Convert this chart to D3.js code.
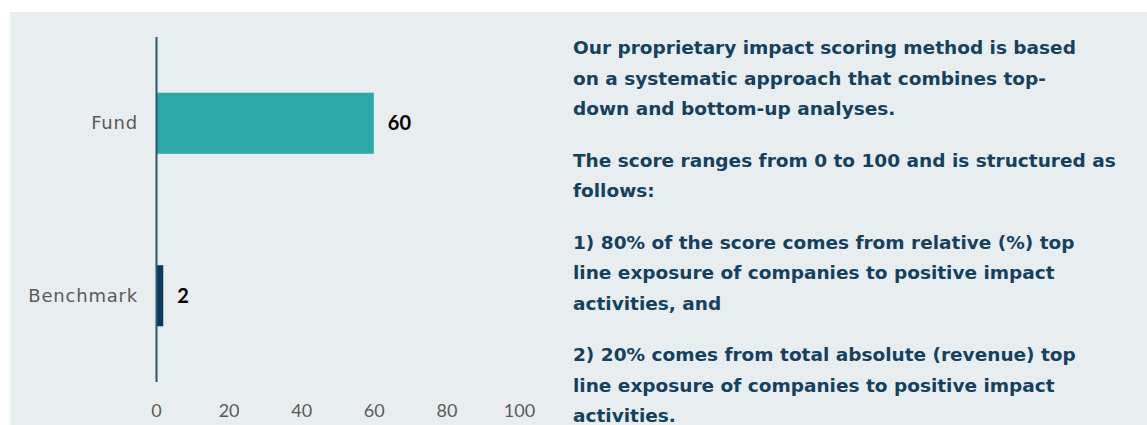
<!DOCTYPE html>
<html lang="en">
	<head>
		<meta charset="utf-8">
		<title>Impact score</title>
		<script type="text/javascript" src="https://cdn.jsdelivr.net/npm/d3@7"></script>
		<style type="text/css">
			body { margin: 0; background: #ffffff; }
			svg text { font-family: "Lato", "DejaVu Sans", sans-serif; }
			.desc text { font-family: "DejaVu Sans", sans-serif; }
			.cat text { font-family: "DejaVu Sans", sans-serif; letter-spacing: 0.8px; }
		</style>
	</head>
	<body>
		<script type="text/javascript">

			//Width and height
			var w = 1147;
			var h = 425;

			//Data
			var categories = ["Fund", "Benchmark"];
			var scores = [60, 2];
			var barColors = ["#2ca8a6", "#0c3b5a"];
			var xTicks = [0, 20, 40, 60, 80, 100];

			//Right hand text, one array per paragraph
			var paragraphs = [
				["Our proprietary impact scoring method is based",
				 "on a systematic approach that combines top-",
				 "down and bottom-up analyses."],
				["The score ranges from 0 to 100 and is structured as",
				 "follows:"],
				["1) 80% of the score comes from relative (%) top",
				 "line exposure of companies to positive impact",
				 "activities, and"],
				["2) 20% comes from total absolute (revenue) top",
				 "line exposure of companies to positive impact",
				 "activities."]
			];

			var svg = d3.select("body")
						.append("svg")
						.attr("width", w)
						.attr("height", h);

			//Panel background
			svg.append("rect")
				.attr("x", 10)
				.attr("y", 12)
				.attr("width", w - 10)
				.attr("height", h - 12)
				.attr("fill", "#e8eeef");

			//Scales
			var xScale = d3.scaleLinear()
							.domain([0, 100])
							.range([156, 519]);

			var yScale = d3.scaleBand()
							.domain(categories)
							.range([37, 382])
							.paddingInner(0.646)
							.paddingOuter(0.323);

			//Bars
			svg.selectAll("rect.bar")
				.data(categories)
				.enter()
				.append("rect")
				.attr("class", "bar")
				.attr("x", xScale(0))
				.attr("y", function(d) { return yScale(d); })
				.attr("width", function(d, i) { return xScale(scores[i]) - xScale(0); })
				.attr("height", yScale.bandwidth())
				.attr("fill", function(d, i) { return barColors[i]; });

			//Value labels
			svg.selectAll("text.value")
				.data(categories)
				.enter()
				.append("text")
				.attr("class", "value")
				.text(function(d, i) { return scores[i]; })
				.attr("x", function(d, i) { return xScale(scores[i]) + 14; })
				.attr("y", function(d) { return yScale(d) + yScale.bandwidth() / 2; })
				.attr("dy", "0.36em")
				.attr("font-size", 20)
				.attr("font-weight", "bold")
				.attr("fill", "#000000");

			//Y axis
			var yAxis = d3.axisLeft(yScale).tickSize(0).tickPadding(18);
			var gy = svg.append("g")
				.attr("class", "cat")
				.attr("transform", "translate(" + xScale(0) + ",0)")
				.call(yAxis);
			gy.select(".domain")
				.attr("d", "M0.5," + 37 + "V" + 382)
				.attr("stroke", "#265673")
				.attr("stroke-width", 2);
			gy.selectAll("text")
				.attr("font-size", 18)
				.attr("fill", "#5a5a5a");

			//X axis (labels only)
			var xAxis = d3.axisBottom(xScale).tickValues(xTicks).tickSize(0).tickPadding(18);
			var gx = svg.append("g")
				.attr("transform", "translate(0,386)")
				.call(xAxis);
			gx.select(".domain").remove();
			gx.selectAll("text")
				.attr("font-size", 18)
				.attr("fill", "#5a5a5a");

			//Description text
			var lineH = 30.5;
			var gap = 21;
			var yPos = 54;
			var desc = svg.append("g").attr("class", "desc");
			paragraphs.forEach(function(p) {
				p.forEach(function(line) {
					desc.append("text")
						.text(line)
						.attr("x", 573)
						.attr("y", yPos)
						.attr("font-size", 18.5)
						.attr("font-weight", "bold")
						.attr("fill", "#15415f");
					yPos += lineH;
				});
				yPos += gap;
			});

		</script>
	</body>
</html>
